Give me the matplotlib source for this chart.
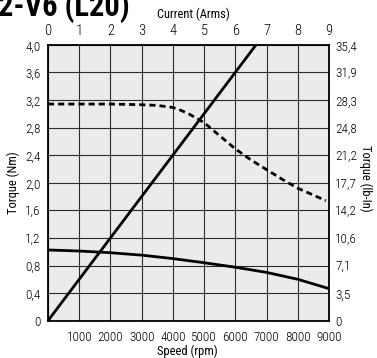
import matplotlib
matplotlib.use('Agg')
import matplotlib.pyplot as plt
from matplotlib import font_manager

# pick a narrow face if one is around, otherwise plain DejaVu
installed = {f.name for f in font_manager.fontManager.ttflist}
narrow = None
for name in ['Liberation Sans Narrow', 'DejaVu Sans Condensed', 'Roboto Condensed']:
    if name in installed:
        narrow = name
        break
plt.rcParams['font.family'] = [narrow or 'DejaVu Sans', 'DejaVu Sans']
plt.rcParams['font.weight'] = 'light'

# peak torque (dashed), speed in rpm / torque in Nm
peak_speed = [0, 1000, 2000, 3000, 3500, 4000, 4250, 4500, 5000, 5500,
              6000, 6500, 7000, 7500, 8000, 8500, 8900]
peak_torque = [3.14, 3.14, 3.14, 3.13, 3.12, 3.09, 3.05, 3.00, 2.87, 2.68,
               2.49, 2.33, 2.19, 2.05, 1.92, 1.82, 1.74]

# continuous torque (solid)
cont_speed = [0, 1000, 2000, 3000, 4000, 5000, 6000, 7000, 8000, 9000]
cont_torque = [1.025, 1.01, 0.985, 0.95, 0.90, 0.84, 0.775, 0.70, 0.60, 0.465]

# torque vs current, kt = 0.6 Nm/Arms
kt_current = [0, 6, 7]
kt_torque = [0, 3.6, 4.2]

speed_ticks = [0, 1000, 2000, 3000, 4000, 5000, 6000, 7000, 8000, 9000]
speed_labels = ['', '1000', '2000', '3000', '4000', '5000', '6000', '7000', '8000', '9000']
current_ticks = [0, 1, 2, 3, 4, 5, 6, 7, 8, 9]
nm_ticks = [0, 0.4, 0.8, 1.2, 1.6, 2.0, 2.4, 2.8, 3.2, 3.6, 4.0]
nm_labels = ['0', '0,4', '0,8', '1,2', '1,6', '2,0', '2,4', '2,8', '3,2', '3,6', '4,0']
lbin_labels = ['0', '3,5', '7,1', '10,6', '14,2', '17,7', '21,2', '24,8', '28,3', '31,9', '35,4']

W, H = 377, 358
fig = plt.figure(figsize=(W / 100, H / 100), dpi=100)
x0, x1, y0, y1 = 48, 329, 44.7, 320.7
ax = fig.add_axes([x0 / W, 1 - y1 / H, (x1 - x0) / W, (y1 - y0) / H])
ax.set_facecolor('#ebebeb')
ax.set_xlim(0, 9000)
ax.set_ylim(0, 4)
ax.set_xticks(speed_ticks)
ax.set_xticklabels(speed_labels)
ax.set_yticks(nm_ticks)
ax.set_yticklabels(nm_labels)
ax.grid(True, color='#2b2b2b', lw=0.8)
ax.set_axisbelow(True)
ax.tick_params(axis='x', length=0, labelsize=9.5, pad=7.5)
ax.tick_params(axis='y', length=0, labelsize=9.5, pad=5.5)
for s in ax.spines.values():
    s.set_linewidth(1.3)
    s.set_color('black')

ax.plot(peak_speed, peak_torque, color='black', lw=2.0, ls=(0, (2.2, 1.45)))
ax.plot(cont_speed, cont_torque, color='black', lw=2.0, solid_capstyle='butt')

# right axis in lb-in, same positions as the Nm ticks
ax_r = ax.twinx()
ax_r.set_ylim(0, 4)
ax_r.set_yticks(nm_ticks)
ax_r.set_yticklabels(lbin_labels)
ax_r.tick_params(axis='y', length=0, labelsize=9.5, pad=4.5)

# top axis in Arms
ax_t = ax.twiny()
ax_t.set_xlim(0, 9)
ax_t.set_xticks(current_ticks)
ax_t.tick_params(axis='x', length=0, labelsize=10.5, pad=4.5)
ax_t.plot(kt_current, kt_torque, color='black', lw=2.0)
ax_t.set_ylim(0, 4)

for a in (ax_r, ax_t):
    for s in a.spines.values():
        s.set_visible(False)

def to_ax(px, py):
    return (px - x0) / (x1 - x0), (y1 - py) / (y1 - y0)

ax.set_xlabel('Speed (rpm)', fontsize=9)
ax.xaxis.set_label_coords(*to_ax(187, 351))
ax.xaxis.label.set_va('center')
ax.set_ylabel('Torque (Nm)', fontsize=9)
ax.yaxis.set_label_coords(*to_ax(13, 183))
ax.yaxis.label.set_va('center')
ax_r.set_ylabel('Torque (lb-In)', fontsize=9, rotation=-90)
ax_r.yaxis.set_label_coords(*to_ax(366, 178))
ax_r.yaxis.label.set_va('center')
ax_t.set_xlabel('Current (Arms)', fontsize=9)
ax_t.xaxis.set_label_coords(*to_ax(193, 14))
ax_t.xaxis.label.set_va('center')

fig.text(-2 / W, 1 - 16 / H, '2-V6 (L20)', fontsize=22, fontweight='bold',
         va='baseline', ha='left')

fig.savefig('out.png', dpi=100)
